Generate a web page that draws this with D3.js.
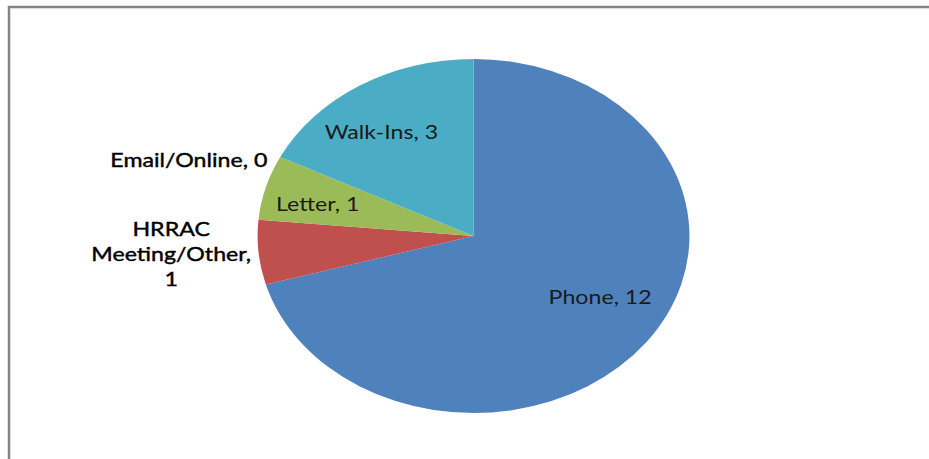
<!DOCTYPE html>
<html>
<head>
<meta charset="utf-8">
<script src="https://cdn.jsdelivr.net/npm/d3@7"></script>
<style>
  body { margin: 0; background: #fff; }
  svg { display: block; }
</style>
</head>
<body>
<div id="canvas"></div>
<script>
const categories = ["Phone", "HRRAC Meeting/Other", "Letter", "Email/Online", "Walk-Ins"];
const values = [12, 1, 1, 0, 3];
const colors = ["#4F81BD", "#C0504D", "#9BBB59", "#8064A2", "#4BACC6"];
// label lines as they wrap in the picture
const labelLines = [["Phone, 12"], ["HRRAC", "Meeting/Other,", "1"], ["Letter, 1"], ["Email/Online, 0"], ["Walk-Ins, 3"]];

const width = 929;
const height = 459;
const cx = 473.5, cy = 236;
const radius = 177;
const stretch = 1.22; // the picture is wider than tall

// label radius per slice (fraction of the radius) plus a small nudge in px
const labelR = [0.70, 1.42, 0.76, 1.40, 0.74];
const nudge = [[6, -13], [3, -4], [2, 6], [-14, 35], [-8, 8]];

const data = categories.map((c, i) => ({ name: c, value: values[i], color: colors[i], lines: labelLines[i] }));

const svg = d3.select("#canvas").append("svg")
    .attr("width", width)
    .attr("height", height);

// frame
svg.append("path")
    .attr("d", `M9,${height} L9,7 L${width},7`)
    .attr("fill", "none")
    .attr("stroke", "#858585")
    .attr("stroke-width", 2.5);

const g = svg.append("g")
    .attr("transform", `translate(${cx},${cy}) scale(${stretch},1)`);

const pie = d3.pie().value(d => d.value).sort(null);
const arc = d3.arc().innerRadius(0).outerRadius(radius);
const arcs = pie(data);

g.selectAll("path.slice").data(arcs).enter().append("path")
    .attr("class", "slice")
    .attr("d", arc)
    .attr("fill", d => d.data.color);

const lineH = 25;
const labels = svg.selectAll("text.lbl").data(arcs).enter().append("text")
    .attr("class", "lbl")
    .attr("text-anchor", "middle")
    .style("font-family", "Lato, 'Noto Sans', sans-serif")
    .style("font-size", "19px")
    .attr("fill", d => labelR[d.index] > 1 ? "#000" : "#1a1a1a")
    .attr("stroke", d => labelR[d.index] > 1 ? "#000" : "none")
    .attr("stroke-width", 0.4)
    .attr("transform", d => {
        const r = radius * labelR[d.index];
        const a = (d.startAngle + d.endAngle) / 2;
        const x = cx + Math.sin(a) * r * stretch + nudge[d.index][0];
        const y = cy - Math.cos(a) * r + nudge[d.index][1];
        return `translate(${x},${y}) scale(${stretch},1)`;
    });

labels.each(function (d) {
    const n = d.data.lines.length;
    d3.select(this).selectAll("tspan").data(d.data.lines).enter().append("tspan")
        .attr("x", 0)
        .attr("y", (l, i) => (i - (n - 1) / 2) * lineH + 6)
        .text(l => l);
});
</script>
</body>
</html>
